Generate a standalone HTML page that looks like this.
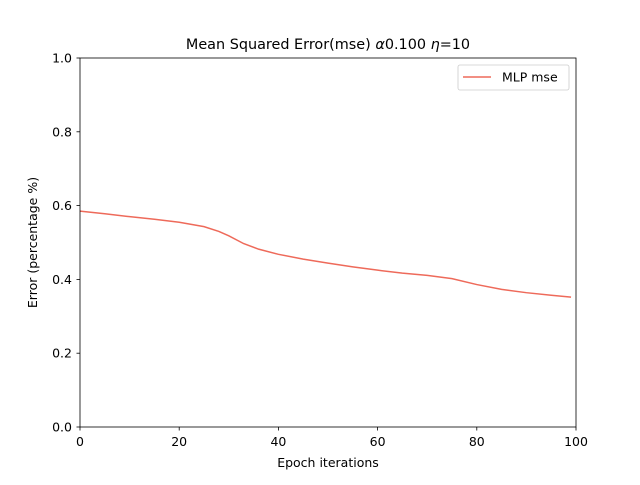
<!DOCTYPE html>
<html><head><meta charset="utf-8"><style>
body{margin:0;background:#fff}
text{font-family:"DejaVu Sans","Liberation Sans",sans-serif}
</style></head><body>
<svg id="chart" width="640" height="480" xmlns="http://www.w3.org/2000/svg">
<rect width="640" height="480" fill="#fff"/>
<text x="328" y="49" font-size="14.4" text-anchor="middle">Mean Squared Error(mse) <tspan font-style="italic">α</tspan>0.100 <tspan font-style="italic">η</tspan>=10</text>
<g id="ticks"></g>
<path id="line" fill="none" stroke="#ee6a5a" stroke-width="1.5"/>
<rect x="80" y="58" width="496" height="369" fill="none" stroke="#000" stroke-width="0.8"/>
<text x="328" y="467" font-size="12.5" text-anchor="middle">Epoch iterations</text>
<text transform="translate(37,242.5) rotate(-90)" font-size="12.5" text-anchor="middle">Error (percentage %)</text>
<g>
<rect x="458" y="65" width="111" height="25" rx="2" fill="#fff" stroke="#ccc" stroke-width="0.8"/>
<line x1="463" y1="77" x2="491" y2="77" stroke="#ee6a5a" stroke-width="1.5"/>
<text x="502" y="81.5" font-size="12.5">MLP mse</text>
</g>
</svg>
<script>
const epochs=[0,5,10,15,20,25,28,30,33,36,40,45,50,55,60,65,70,75,80,85,90,95,99];
const mse=[0.585,0.578,0.570,0.563,0.555,0.543,0.530,0.518,0.497,0.482,0.468,0.455,0.444,0.434,0.425,0.417,0.411,0.402,0.386,0.373,0.364,0.357,0.352];
const xTicks=[0,20,40,60,80,100];
const yTicks=[0.0,0.2,0.4,0.6,0.8,1.0];
const X=v=>80+v/100*496, Y=v=>427-v*369;
const ns="http://www.w3.org/2000/svg", g=document.getElementById('ticks');
function mk(t,a){const e=document.createElementNS(ns,t);for(const k in a)e.setAttribute(k,a[k]);g.appendChild(e);return e;}
xTicks.forEach(t=>{
 const l=mk('line',{x1:X(t),x2:X(t),y1:427,y2:430.5,stroke:'#000','stroke-width':0.8});
 
 
 const s=mk('text',{x:X(t),y:446,'font-size':12.5,'text-anchor':'middle'});s.textContent=t;
 
 
});
yTicks.forEach(t=>{
 const l=mk('line',{x1:76.5,x2:80,y1:Y(t),y2:Y(t),stroke:'#000','stroke-width':0.8});
 
 
 const s=mk('text',{x:72,y:Y(t)+4.5,'font-size':12.5,'text-anchor':'end'});s.textContent=t.toFixed(1);
 
 
});
document.getElementById('line').setAttribute('d',epochs.map((e,i)=>(i?'L':'M')+X(e)+','+Y(mse[i])).join(''));
</script>
</body></html>
